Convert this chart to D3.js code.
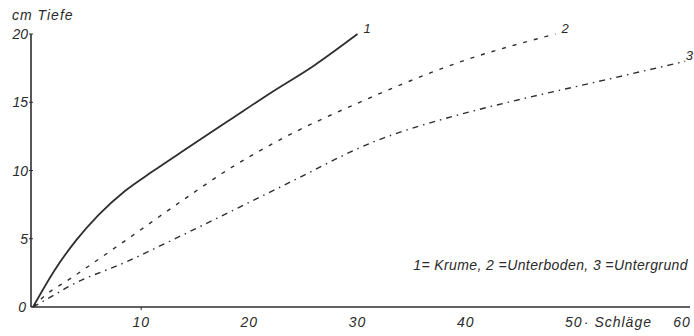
<!DOCTYPE html>
<html><head><meta charset="utf-8">
<script src="https://cdn.jsdelivr.net/npm/d3@7/dist/d3.min.js"></script>
<style>body{margin:0;background:#fff}svg{display:block}text{font-family:"Liberation Sans",Arial,sans-serif;font-style:italic;fill:#2a2a2a}</style>
</head><body><svg id="c" width="694" height="336"></svg>
<script>
const xTicks=[10,20,30,40,50,60];
const yTicks=[0,5,10,15,20];
const curve1=[[0,0],[2,2.7],[4,4.9],[6,6.7],[8.5,8.5],[11,9.9],[14,11.5],[18,13.6],[22,15.7],[26,17.7],[30,20]];
const curve2=[[0,0],[1.2,0.9],[3.3,2.0],[8.6,4.9],[13.8,7.8],[18.3,10.2],[22,11.9],[30.5,15.1],[40.4,18.2],[48.3,20]];
const curve3=[[0,0],[2,0.9],[3.3,1.5],[8.6,3.3],[13.9,5.3],[22.9,8.8],[31.5,12.1],[40.4,14.3],[45,15.2],[52.7,16.6],[60.3,18]];
const curveLabels=["1","2","3"];
const legendText="1= Krume, 2 =Unterboden, 3 =Untergrund";
const yTitle="cm Tiefe";
const xTitle="· Schläge";

const svg=d3.select("#c");
const x=d3.scaleLinear().domain([0,60]).range([33,682]);
const y=d3.scaleLinear().domain([0,20]).range([307,34]);
const ink="#2e2e2e";

svg.append("line").attr("x1",x(0)-2).attr("x2",690).attr("y1",y(0)).attr("y2",y(0)).attr("stroke",ink).attr("stroke-width",1.6);
svg.append("line").attr("x1",31).attr("x2",31).attr("y1",y(0)).attr("y2",y(20)).attr("stroke",ink).attr("stroke-width",1.6);

svg.selectAll(".yt").data(yTicks).join("text")
 .attr("x",d=>d===0?26:28).attr("y",d=>y(d)+5).attr("text-anchor","end")
 .attr("font-size",14).text(d=>d);
svg.selectAll(".ytk").data(yTicks.filter(d=>d>0)).join("line")
 .attr("x1",29).attr("x2",33).attr("y1",d=>y(d)).attr("y2",d=>y(d)).attr("stroke",ink).attr("stroke-width",1);
svg.selectAll(".xt").data(xTicks).join("text")
 .attr("x",d=>x(d)).attr("y",327).attr("text-anchor","middle")
 .attr("font-size",14).attr("letter-spacing",1).text(d=>d);
svg.append("line").attr("x1",x(10)).attr("x2",x(10)).attr("y1",y(0)).attr("y2",y(0)+3).attr("stroke",ink);

svg.append("text").attr("x",12).attr("y",20).attr("font-size",14).attr("letter-spacing",1).text(yTitle);
svg.append("text").attr("x",x(50)+10).attr("y",327).attr("font-size",14).attr("letter-spacing",1).text(xTitle);

const line=d3.line().x(d=>x(d[0])).y(d=>y(d[1])).curve(d3.curveMonotoneX);
svg.append("path").attr("d",line(curve1)).attr("fill","none").attr("stroke",ink).attr("stroke-width",1.8);
svg.append("path").attr("d",line(curve2)).attr("fill","none").attr("stroke",ink).attr("stroke-width",1.4).attr("stroke-dasharray","4,7");
svg.append("path").attr("d",line(curve3)).attr("fill","none").attr("stroke",ink).attr("stroke-width",1.4).attr("stroke-dasharray","6,5,1.5,5");

const ends=[curve1[curve1.length-1],curve2[curve2.length-1],curve3[curve3.length-1]];
svg.selectAll(".cl").data(ends).join("text")
 .attr("x",(d,i)=>i===2?693:x(d[0])+6).attr("y",d=>y(d[1])-1).attr("text-anchor",(d,i)=>i===2?"end":"start")
 .attr("font-size",13).text((d,i)=>curveLabels[i]);

svg.append("text").attr("x",688).attr("y",270).attr("text-anchor","end").attr("font-size",14).attr("letter-spacing",0.4).text(legendText);
</script></body></html>
